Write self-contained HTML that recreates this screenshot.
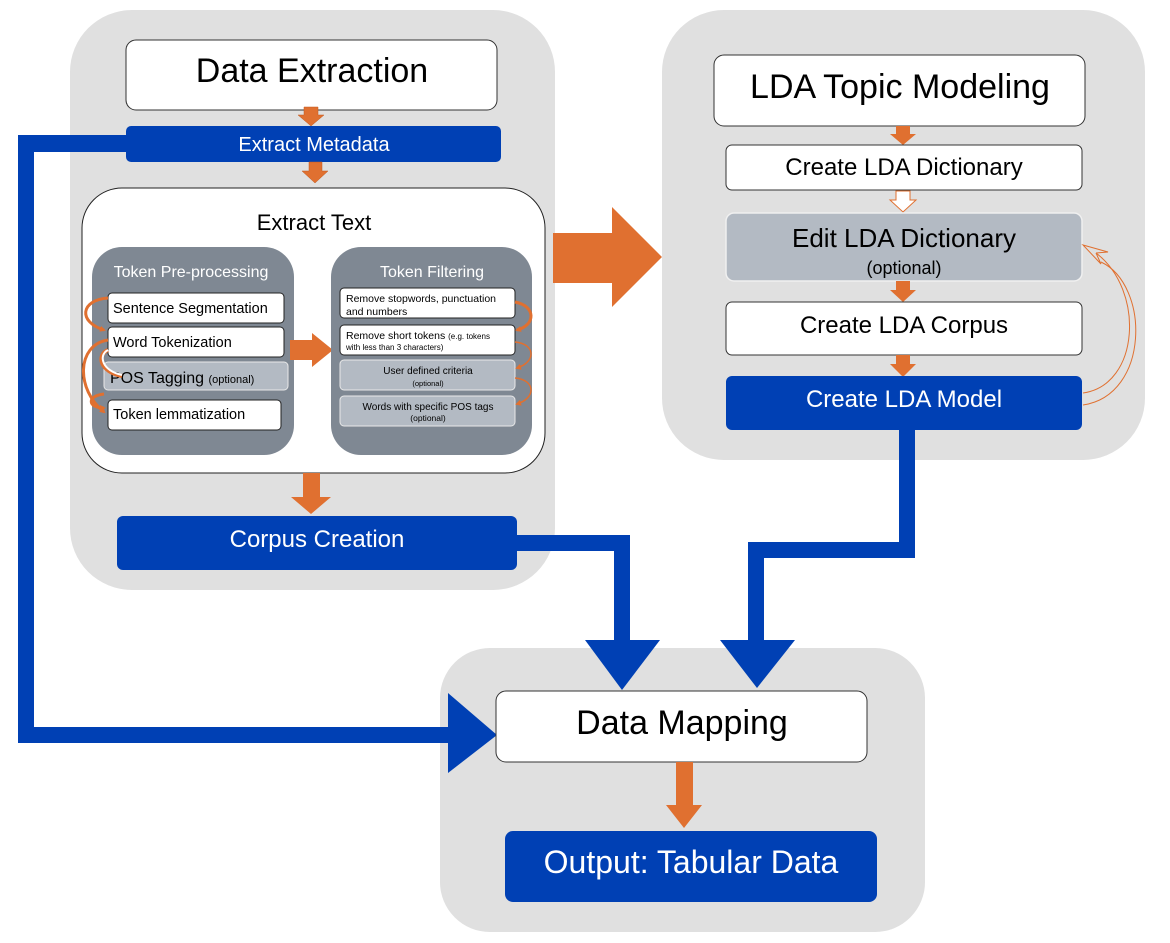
<!DOCTYPE html>
<html><head><meta charset="utf-8"><style>
html,body{margin:0;padding:0;background:#fff;}
svg{display:block;font-family:"Liberation Sans",Arial,sans-serif;}
</style></head><body>
<svg width="1170" height="943" viewBox="0 0 1170 943" xmlns="http://www.w3.org/2000/svg">
<defs>
<marker id="oh" markerWidth="6" markerHeight="6" refX="4" refY="3" orient="auto" markerUnits="userSpaceOnUse"><path d="M0,0 L6,3 L0,6 z" fill="#e07030"/></marker>
</defs>
<!-- panels -->
<rect x="70" y="10" width="485" height="580" rx="62" fill="#e0e0e0"/>
<rect x="662" y="10" width="483" height="450" rx="62" fill="#e0e0e0"/>
<rect x="440" y="648" width="485" height="284" rx="50" fill="#e0e0e0"/>

<!-- blue connectors -->
<g fill="#0040b4">
<rect x="18" y="135" width="110" height="17"/>
<rect x="18" y="135" width="16" height="608"/>
<rect x="18" y="727" width="435" height="16"/>
<polygon points="448,693 497,735 448,773"/>
<rect x="515" y="535" width="115" height="16"/>
<rect x="614" y="535" width="16" height="110"/>
<polygon points="585,640 660,640 622,690"/>
<rect x="899" y="428" width="16" height="130"/>
<rect x="748" y="542" width="167" height="16"/>
<rect x="748" y="542" width="16" height="103"/>
<polygon points="720,640 795,640 757,688"/>
</g>

<!-- left panel -->
<rect x="126" y="40" width="371" height="70" rx="10" fill="#fff" stroke="#333" stroke-width="1"/>
<text x="312" y="82" font-size="34" text-anchor="middle">Data Extraction</text>
<polygon points="304,107 318,107 318,115 324,115 311,126 298,115 304,115" fill="#e07030" stroke="#c05a20" stroke-width="0.5"/>
<rect x="126" y="126" width="375" height="36" rx="5" fill="#0040b4"/>
<text x="314" y="151" font-size="20" fill="#fff" text-anchor="middle">Extract Metadata</text>
<polygon points="309,162 322,162 322,171 328,171 315,183 302,171 309,171" fill="#e07030" stroke="#c05a20" stroke-width="0.5"/>

<rect x="82" y="188" width="463" height="285" rx="40" fill="#fff" stroke="#222" stroke-width="1"/>
<text x="314" y="230" font-size="22" text-anchor="middle">Extract Text</text>

<rect x="92" y="247" width="202" height="208" rx="30" fill="#7f8893"/>
<text x="191" y="277" font-size="16" fill="#fff" text-anchor="middle">Token Pre-processing</text>
<rect x="108" y="293" width="176" height="30" rx="4" fill="#fff" stroke="#222"/>
<text x="113" y="313" font-size="14.5">Sentence Segmentation</text>
<rect x="108" y="327" width="176" height="30" rx="4" fill="#fff" stroke="#222"/>
<text x="113" y="347" font-size="14.5">Word Tokenization</text>
<rect x="104" y="362" width="184" height="28" rx="4" fill="#b3bac3" stroke="#e8e8e8"/>
<text x="110" y="383" font-size="16">POS Tagging <tspan font-size="11">(optional)</tspan></text>
<rect x="108" y="400" width="173" height="30" rx="4" fill="#fff" stroke="#222"/>
<text x="113" y="419" font-size="14.5">Token lemmatization</text>
<g fill="none" stroke="#e07030" stroke-width="3">
<path d="M108,298 C80,300 78,322 104,330" marker-end="url(#oh)"/>
<path d="M108,340 C76,345 76,390 104,412" marker-end="url(#oh)"/>
<path d="M104,394 C86,396 88,408 104,408" marker-end="url(#oh)"/>
</g>
<path d="M108,350 C96,355 100,372 122,376" fill="none" stroke="#e07030" stroke-width="4"/>
<path d="M108,350 C98,355 102,371 122,375" fill="none" stroke="#fff" stroke-width="2"/>

<polygon points="290,340 312,340 312,333 333,350 312,367 312,360 290,360" fill="#e07030"/>

<rect x="331" y="247" width="201" height="208" rx="30" fill="#7f8893"/>
<text x="432" y="277" font-size="16" fill="#fff" text-anchor="middle">Token Filtering</text>
<rect x="340" y="288" width="175" height="30" rx="4" fill="#fff" stroke="#222"/>
<text x="346" y="302" font-size="10.5">Remove stopwords, punctuation</text>
<text x="346" y="315" font-size="10.5">and numbers</text>
<rect x="340" y="325" width="175" height="30" rx="4" fill="#fff" stroke="#222"/>
<text x="346" y="339" font-size="10.5">Remove short tokens <tspan font-size="8">(e.g. tokens</tspan></text>
<text x="346" y="350" font-size="8">with less than 3 characters)</text>
<rect x="340" y="360" width="175" height="30" rx="4" fill="#b3bac3" stroke="#e8e8e8"/>
<text x="428" y="374" font-size="10" text-anchor="middle">User defined criteria</text>
<text x="428" y="386" font-size="7.5" text-anchor="middle">(optional)</text>
<rect x="340" y="396" width="175" height="30" rx="4" fill="#b3bac3" stroke="#e8e8e8"/>
<text x="428" y="410" font-size="10" text-anchor="middle">Words with specific POS tags</text>
<text x="428" y="421" font-size="8.5" text-anchor="middle">(optional)</text>
<g fill="none" stroke="#e07030">
<path d="M515,302 C536,306 536,325 517,330" stroke-width="3" marker-end="url(#oh)"/>
<path d="M515,342 C536,344 536,362 517,368" stroke-width="1.5" marker-end="url(#oh)"/>
<path d="M515,378 C536,380 536,398 517,404" stroke-width="1.5" marker-end="url(#oh)"/>
</g>

<polygon points="303,473 320,473 320,497 331,497 311,514 291,497 303,497" fill="#e07030"/>
<rect x="117" y="516" width="400" height="54" rx="6" fill="#0040b4"/>
<text x="317" y="547" font-size="24" fill="#fff" text-anchor="middle">Corpus Creation</text>

<!-- big orange arrow -->
<polygon points="553,233 612,233 612,207 662,257 612,307 612,283 553,283" fill="#e07030"/>

<!-- right panel -->
<rect x="714" y="55" width="371" height="71" rx="10" fill="#fff" stroke="#333"/>
<text x="900" y="98" font-size="34" text-anchor="middle">LDA Topic Modeling</text>
<polygon points="896,126 910,126 910,134 916,134 903,145 890,134 896,134" fill="#e07030"/>
<rect x="726" y="145" width="356" height="45" rx="6" fill="#fff" stroke="#333"/>
<text x="904" y="175" font-size="24" text-anchor="middle">Create LDA Dictionary</text>
<polygon points="896,191 910,191 910,200 916,200 903,212 890,200 896,200" fill="#fff" stroke="#e07030"/>
<rect x="726" y="213" width="356" height="68" rx="8" fill="#b3bac3" stroke="#f0f0f0" stroke-width="1.5"/>
<text x="904" y="247" font-size="26" text-anchor="middle">Edit LDA Dictionary</text>
<text x="904" y="274" font-size="18" text-anchor="middle">(optional)</text>
<polygon points="896,281 910,281 910,290 916,290 903,302 890,290 896,290" fill="#e07030"/>
<rect x="726" y="302" width="356" height="53" rx="6" fill="#fff" stroke="#333"/>
<text x="904" y="333" font-size="24" text-anchor="middle">Create LDA Corpus</text>
<polygon points="896,355 910,355 910,364 916,364 903,377 890,364 896,364" fill="#e07030"/>
<rect x="726" y="376" width="356" height="54" rx="6" fill="#0040b4"/>
<text x="904" y="407" font-size="24" fill="#fff" text-anchor="middle">Create LDA Model</text>
<path d="M1083,393 C1140,385 1145,290 1096,253 L1101,264 L1083,245 L1108,252 L1096,253" fill="none" stroke="#e07030" stroke-width="1"/>
<path d="M1083,405 C1150,395 1150,285 1101,262" fill="none" stroke="#e07030" stroke-width="1"/>

<!-- bottom -->
<rect x="496" y="691" width="371" height="71" rx="10" fill="#fff" stroke="#333"/>
<text x="682" y="734" font-size="34" text-anchor="middle">Data Mapping</text>
<polygon points="676,762 693,762 693,805 702,805 684,828 666,805 676,805" fill="#e07030"/>
<rect x="505" y="831" width="372" height="71" rx="8" fill="#0040b4"/>
<text x="691" y="873" font-size="32" fill="#fff" text-anchor="middle">Output: Tabular Data</text>
</svg>
</body></html>
